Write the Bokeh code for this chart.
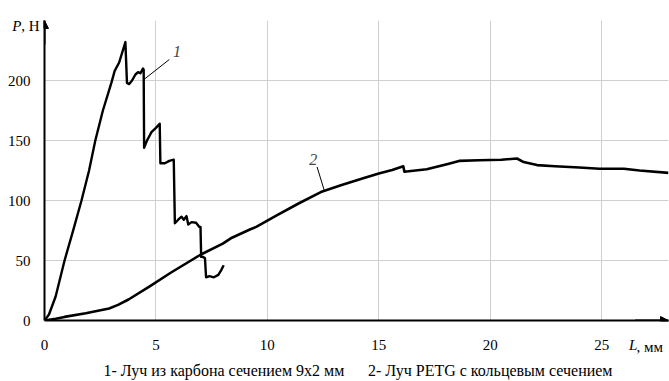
from bokeh.plotting import figure
from bokeh.models import FixedTicker, Label, Arrow, NormalHead, Range1d, LinearAxis, Grid
from bokeh.embed import file_html
from bokeh.resources import INLINE

# Curve 1: carbon beam 9x2 mm
x1 = [0, 0.2, 0.5, 0.9, 1.3, 1.66, 2.0, 2.28, 2.62, 3.0, 3.15, 3.35, 3.63, 3.7, 3.8, 3.93,
      4.08, 4.2, 4.3, 4.42, 4.45, 4.47, 4.6, 4.8, 5.0, 5.17, 5.2, 5.4, 5.6, 5.8, 5.85, 6.0,
      6.15, 6.25, 6.37, 6.45, 6.6, 6.8, 6.95, 7.0, 7.03, 7.1, 7.2, 7.25, 7.4, 7.6, 7.8, 7.93, 8.04]
y1 = [0, 5, 20, 50, 76, 100, 125, 150, 175, 198, 208, 215, 232, 198, 197, 200,
      205, 207, 206, 210, 209, 144, 150, 157, 160.5, 164, 131, 131, 133, 134, 81, 84,
      86.5, 84, 87, 80, 82, 81.5, 78, 78, 53, 53, 52, 36, 37, 36, 38, 42, 46]

# Curve 2: PETG beam with ring cross-section
x2 = [0, 0.5, 0.9, 1.85, 2.9, 3.3, 3.77, 4.72, 5.68, 7.02, 8.0, 8.36, 9.24, 9.5, 10.46,
      11.4, 12.4, 13.3, 14.3, 15.0, 15.6, 16.1, 16.15, 17.15, 18.1, 18.6, 19.5, 20.5,
      21.2, 21.5, 22.1, 22.9, 24.0, 24.9, 26.0, 26.7, 28.0]
y2 = [0, 1.5, 3, 6, 10, 13, 17.5, 28.5, 40, 55, 64, 68.5, 76, 78, 88,
      97.5, 107, 112.7, 118.5, 122.5, 125.5, 128.5, 124, 126, 130.5, 133, 133.5, 134,
      135, 132, 129.5, 128.5, 127.5, 126.5, 126.5, 125, 123]

x_ticks = [0, 5, 10, 15, 20, 25]
y_ticks = [0, 50, 100, 150, 200]
x_grid = [5, 10, 15, 20, 25]
y_grid = [50, 100, 150, 200, 250]
x_label = "L"
x_unit = ", мм"
y_label = "P"
y_unit = ", Н"
caption1 = "1- Луч из карбона сечением 9х2 мм"
caption2 = "2- Луч PETG с кольцевым сечением"

# where the axis titles / captions sit (axis coordinates)
y_title_at = 245.5
x_title_at = 26.42
x_unit_at = 27.16
caption_at = [8.05, 20.0]

FONT = "Liberation Serif"
FS = "15px"

p = figure(width=669, height=381, output_backend="svg", toolbar_location=None,
           x_range=Range1d(0, 28), y_range=Range1d(0, 250),
           x_axis_location=None, y_axis_location=None,
           min_border_left=44, min_border_right=1, min_border_top=20, min_border_bottom=60)
p.outline_line_color = None
p.background_fill_color = "white"


def make_axis(ticks, overrides=None, standoff=10, line=False, style="normal", size=FS):
    ax = LinearAxis(ticker=FixedTicker(ticks=ticks))
    if overrides:
        ax.major_label_overrides = overrides
    ax.major_tick_out = 0
    ax.major_tick_in = 0
    ax.minor_tick_out = 0
    ax.minor_tick_in = 0
    ax.major_tick_line_color = None
    ax.minor_tick_line_color = None
    ax.axis_line_width = 2
    ax.axis_line_color = "black" if line else None
    ax.major_label_text_font = FONT
    ax.major_label_text_font_size = size
    ax.major_label_text_font_style = style
    ax.major_label_text_color = "black"
    ax.major_label_standoff = standoff
    return ax


# left side: visible axis line with ", Н", then numeric ticks, then italic "P"
p.add_layout(make_axis([y_title_at], {y_title_at: y_unit}, standoff=5, line=True), "left")
p.add_layout(make_axis(y_ticks, standoff=-12), "left")
p.add_layout(make_axis([y_title_at], {y_title_at: y_label}, standoff=-17, style="italic"), "left")

# bottom: visible axis with numeric ticks, then "L", ", мм", then caption
p.add_layout(make_axis(x_ticks, standoff=19, line=True), "below")
p.add_layout(make_axis([x_title_at], {x_title_at: x_label}, standoff=-16, style="italic"), "below")
p.add_layout(make_axis([x_unit_at], {x_unit_at: x_unit}, standoff=-17), "below")
p.add_layout(make_axis(caption_at, {caption_at[0]: caption1, caption_at[1]: caption2},
                       standoff=4, size="16px"), "below")

p.xgrid.visible = False
p.ygrid.visible = False
p.add_layout(Grid(dimension=0, ticker=FixedTicker(ticks=x_grid), grid_line_color="#cfcfcf"))
p.add_layout(Grid(dimension=1, ticker=FixedTicker(ticks=y_grid), grid_line_color="#cfcfcf"))

p.line(x2, y2, line_color="black", line_width=2.6, line_join="round")
p.line(x1, y1, line_color="black", line_width=2.4, line_join="round")

# axis arrow heads
p.add_layout(Arrow(end=NormalHead(size=8, fill_color="black", line_color="black"),
                   x_start=0, y_start=230, x_end=0, y_end=250, line_width=2))
p.add_layout(Arrow(end=NormalHead(size=8, fill_color="black", line_color="black"),
                   x_start=26.5, y_start=0, x_end=28, y_end=0, line_width=2))

# curve labels with leader lines
p.line([5.6, 4.44], [217.5, 200.5], line_color="black", line_width=1)
p.add_layout(Label(x=5.95, y=224, text="1", text_font=FONT, text_font_style="italic",
                   text_font_size="16px", text_align="center", text_baseline="middle"))
p.line([12.23, 12.56], [128, 108], line_color="black", line_width=1)
p.add_layout(Label(x=12.06, y=134, text="2", text_font=FONT, text_font_style="italic",
                   text_font_size="16px", text_align="center", text_baseline="middle"))

open("out.html", "w").write(file_html(p, INLINE))
